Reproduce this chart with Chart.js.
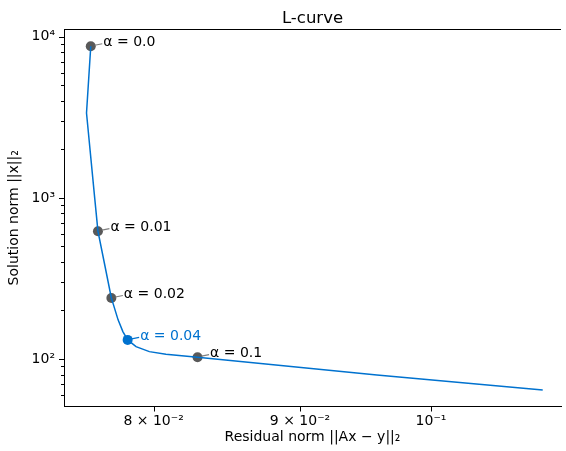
<!DOCTYPE html>
<html>
<head>
<meta charset="utf-8">
<script src="https://cdn.jsdelivr.net/npm/chart.js@4.4.1/dist/chart.umd.min.js"></script>
<style>
  html, body { margin: 0; padding: 0; background: #fff; }
  #wrap { width: 566px; height: 451px; }
</style>
</head>
<body>
<div id="wrap"><canvas id="c" width="566" height="451"></canvas></div>
<script>
// L-curve samples (residual norm, solution norm)
const curveX = [0.07606, 0.07580, 0.07630, 0.07650, 0.07693, 0.07733,
                0.07743, 0.07775, 0.07805, 0.07835, 0.07888, 0.07973, 0.08080, 0.08288,
                0.09574, 0.1094];
const curveY = [8741, 3365, 1000, 621, 379, 239,
                222, 174.8, 147.8, 131.3, 119.2, 111.0, 106.9, 102.5,
                79.5, 64.2];

// highlighted regularisation parameters
const alphaLabels = ['α = 0.0', 'α = 0.01', 'α = 0.02', 'α = 0.04', 'α = 0.1'];
const alphaX = [0.07606, 0.07650, 0.07733, 0.07835, 0.08288];
const alphaY = [8741, 621, 239, 131.3, 102.5];
const alphaBest = 3; // index of the chosen one (drawn blue)

// axes
const xMin = 0.07444, xMax = 0.11102;
const yMin = 50.66, yMax = 11180;
const xTicks = [0.08, 0.09, 0.1];
const xTickLabels = ['8 × 10⁻²', '9 × 10⁻²', '10⁻¹'];
const yMajor = [100, 1000, 10000];
const yMajorLabels = ['10²', '10³', '10⁴'];
const yMinor = [60, 70, 80, 90, 200, 300, 400, 500, 600, 700, 800, 900,
                2000, 3000, 4000, 5000, 6000, 7000, 8000, 9000];

const BLUE = '#0072cf';
const GREY = '#595959';
const FONT = 'DejaVu Sans';

const yTicksAll = yMinor.concat(yMajor).sort((a, b) => a - b);

const extras = {
  id: 'extras',
  afterDraw(chart) {
    const { ctx, chartArea: a, scales: { x, y } } = chart;
    ctx.save();
    // top spine
    ctx.strokeStyle = '#000';
    ctx.lineWidth = 1;
    ctx.beginPath();
    ctx.moveTo(a.left, Math.round(a.top) + 0.5);
    ctx.lineTo(a.right, Math.round(a.top) + 0.5);
    ctx.stroke();

    // tick marks (major longer than minor, like matplotlib)
    ctx.beginPath();
    yTicksAll.forEach(v => {
      const py = Math.round(y.getPixelForValue(v)) + 0.5;
      const len = yMajor.includes(v) ? 5 : 3;
      ctx.moveTo(a.left, py);
      ctx.lineTo(a.left - len, py);
    });
    xTicks.forEach(v => {
      const px = Math.round(x.getPixelForValue(v)) + 0.5;
      ctx.moveTo(px, a.bottom);
      ctx.lineTo(px, a.bottom + 5);
    });
    ctx.stroke();

    // title
    ctx.fillStyle = '#000';
    ctx.font = '16.5px "' + FONT + '"';
    ctx.textAlign = 'center';
    ctx.textBaseline = 'middle';
    ctx.fillText('L-curve', (a.left + a.right) / 2, 19);

    // annotations
    ctx.font = '14px "' + FONT + '"';
    ctx.textAlign = 'left';
    alphaLabels.forEach((t, i) => {
      const px = x.getPixelForValue(alphaX[i]);
      const py = y.getPixelForValue(alphaY[i]);
      const col = i === alphaBest ? BLUE : '#000';
      ctx.strokeStyle = i === alphaBest ? BLUE : '#808080';
      ctx.lineWidth = 1.2;
      ctx.beginPath();
      ctx.moveTo(px + 4, py - 1);
      ctx.lineTo(px + 11.5, py - 2.5);
      ctx.stroke();
      ctx.fillStyle = col;
      ctx.fillText(t, px + 12.5, py - 4);
    });
    ctx.restore();
  }
};

new Chart(document.getElementById('c'), {
  type: 'scatter',
  data: {
    datasets: [
      {
        type: 'line',
        data: curveX.map((v, i) => ({ x: v, y: curveY[i] })),
        borderColor: BLUE,
        borderWidth: 1.5,
        pointRadius: 0,
        tension: 0,
        fill: false,
        order: 0
      },
      {
        data: alphaX.map((v, i) => ({ x: v, y: alphaY[i] })),
        pointRadius: 5,
        pointBorderWidth: 0,
        pointBackgroundColor: alphaX.map((_, i) => i === alphaBest ? BLUE : GREY),
        order: 1
      }
    ]
  },
  options: {
    responsive: false,
    animation: false,
    devicePixelRatio: 1,
    layout: { padding: { top: 29, right: 0, left: 0, bottom: 0 } },
    plugins: { legend: { display: false }, tooltip: { enabled: false }, title: { display: false } },
    scales: {
      x: {
        type: 'logarithmic',
        min: xMin, max: xMax,
        afterBuildTicks: s => { s.ticks = xTicks.map(v => ({ value: v })); },
        afterFit: s => { s.height = 44.5; },
        grid: { drawOnChartArea: false, drawTicks: false },
        border: { display: true, color: '#000', width: 1 },
        ticks: {
          color: '#000',
          padding: 6,
          maxRotation: 0,
          autoSkip: false,
          font: { family: FONT, size: 14 },
          callback: (v) => xTickLabels[xTicks.indexOf(v)] ?? ''
        },
        title: {
          display: true,
          text: 'Residual norm ||Ax − y||₂',
          color: '#000',
          font: { family: FONT, size: 14 },
          padding: { top: 0, bottom: 5 }
        }
      },
      y: {
        type: 'logarithmic',
        min: yMin, max: yMax,
        afterBuildTicks: s => { s.ticks = yMajor.map(v => ({ value: v })); },
        afterFit: s => { s.width = 64; },
        grid: { drawOnChartArea: false, drawTicks: false },
        border: { display: true, color: '#000', width: 1 },
        ticks: {
          color: '#000',
          padding: 9,
          autoSkip: false,
          font: { family: FONT, size: 14 },
          callback: (v) => yMajorLabels[yMajor.indexOf(v)] ?? ''
        },
        title: {
          display: true,
          text: 'Solution norm ||x||₂',
          color: '#000',
          font: { family: FONT, size: 14 },
          padding: { top: 6, bottom: 0 }
        }
      }
    }
  },
  plugins: [extras]
});
</script>
</body>
</html>
